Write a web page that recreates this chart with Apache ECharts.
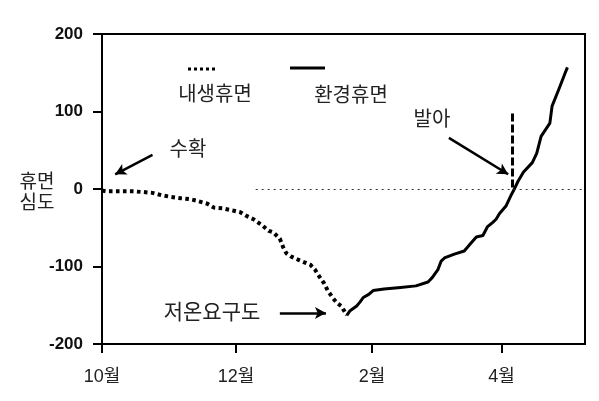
<!DOCTYPE html>
<html><head><meta charset="utf-8">
<script src="https://cdn.jsdelivr.net/npm/echarts@6/dist/echarts.min.js"></script>
<style>html,body{margin:0;padding:0;background:#fff}#c{width:599px;height:401px}</style>
</head><body><div id="c"></div><script>
// x = days since Oct 1
const tickDays = [0, 61, 123, 182];
const tickLabels = ['10월', '12월', '2월', '4월'];
const yTicks = [-200, -100, 0, 100, 200];

// 내생휴면 (endodormancy) – dotted
const endoDays = [0, 2, 8, 14, 19, 23, 27, 31, 36, 40, 43, 48, 51, 55, 60, 63, 66, 69, 73, 76, 78, 81, 82.5, 84, 86, 90, 95, 97, 99, 101, 103, 105, 107, 109, 111.5];
const endoVals = [-2, -3, -3, -3, -4, -5, -8, -10, -12, -13, -15, -19, -24, -25, -28, -30, -35, -39, -47, -54, -56, -64, -75, -83, -87, -92, -98, -104, -113, -121, -132, -140, -147, -151, -163];

// 환경휴면 (ecodormancy) – solid
const ecoDays = [111.5, 113, 116, 117.5, 119, 121.5, 123.5, 128.5, 136, 143, 148.5, 150.5, 153, 154.5, 156, 160.5, 165, 168, 170.5, 173.5, 175.5, 178, 179.5, 181, 184, 186.5, 188, 189.5, 192, 196, 198, 200, 204, 205, 208, 211, 212];
const ecoVals = [-163, -157, -151, -146, -140, -136, -131, -129, -127, -125, -120, -114, -104, -93, -89, -84, -80, -70, -62, -60, -49, -43, -39, -32, -22, -7, 1, 10, 22, 34, 46, 68, 85, 107, 128, 150, 157];

// annotations (data coordinates)
const harvestArrow = [[23, 44], [6, 19]];
const budArrow = [[158, 66], [185, 19]];
const chillArrow = [[81, -160], [102, -160]];
const budLine = [[187, 2], [187, 98]];
const zeroLine = [[70, 0], [220, 0]];

const zip = (a, b) => a.map((v, i) => [v, b[i]]);
const chart = echarts.init(document.getElementById('c'), null, {renderer: 'canvas'});
const KR = '"Noto Sans CJK KR", "Noto Sans", sans-serif';
const txt = (x, y, s, size) => ({
  type: 'text', x: x, y: y,
  style: {text: s, font: 'normal ' + size + 'px ' + KR, fill: '#222', align: 'center', verticalAlign: 'middle', lineHeight: 21}
});
const arrow = (p, extra) => [
  Object.assign({coord: p[0], symbol: 'none'}, extra || {}),
  {coord: p[1], symbol: 'arrow', symbolSize: [9, 11]}
];

chart.setOption({
  animation: false,
  backgroundColor: '#fff',
  grid: {left: 102, right: 14, top: 34, bottom: 57, show: true, borderColor: '#000', borderWidth: 2, backgroundColor: 'transparent'},
  xAxis: {
    type: 'value', min: 0, max: 220,
    axisLine: {show: true, onZero: false, lineStyle: {color: '#000', width: 2}},
    axisTick: {show: true, inside: false, length: 9, customValues: tickDays, lineStyle: {color: '#000', width: 2}},
    axisLabel: {
      customValues: tickDays, margin: 24, color: '#222', fontSize: 18,
      fontFamily: '"Liberation Sans", "Noto Sans CJK KR", sans-serif',
      formatter: v => tickLabels[tickDays.indexOf(v)] || ''
    },
    splitLine: {show: false}
  },
  yAxis: {
    type: 'value', min: -200, max: 200, interval: 100,
    axisLine: {show: true, onZero: false, lineStyle: {color: '#000', width: 2}},
    axisTick: {show: true, inside: false, length: 9, lineStyle: {color: '#000', width: 2}},
    axisLabel: {margin: 19, color: '#111', fontSize: 17, fontWeight: 'bold', fontFamily: '"Liberation Sans", Arial, sans-serif'},
    splitLine: {show: false}
  },
  series: [
    {
      name: '내생휴면', type: 'line', data: zip(endoDays, endoVals), showSymbol: false, smooth: false,
      lineStyle: {color: '#000', width: 4, type: [3.6, 3.4], cap: 'butt'}, z: 3
    },
    {
      name: '환경휴면', type: 'line', data: zip(ecoDays, ecoVals), showSymbol: false, smooth: false,
      lineStyle: {color: '#000', width: 3, type: 'solid', join: 'round'}, z: 3,
      markLine: {
        silent: true, animation: false, label: {show: false}, emphasis: {disabled: true},
        symbol: ['none', 'none'],
        data: [
          [{coord: zeroLine[0], lineStyle: {color: '#333', width: 1, type: [2, 4]}}, {coord: zeroLine[1]}],
          [{coord: budLine[0], lineStyle: {color: '#000', width: 3, type: [8, 3]}}, {coord: budLine[1]}],
          arrow(harvestArrow, {lineStyle: {color: '#000', width: 2.5, type: 'solid'}}),
          arrow(budArrow, {lineStyle: {color: '#000', width: 2.5, type: 'solid'}}),
          arrow(chillArrow, {lineStyle: {color: '#000', width: 2.5, type: 'solid'}})
        ]
      }
    }
  ],
  graphic: [
    {type: 'line', shape: {x1: 188, y1: 69, x2: 216, y2: 69}, style: {stroke: '#000', lineWidth: 3, lineDash: [3, 3]}},
    {type: 'line', shape: {x1: 290, y1: 68, x2: 325, y2: 68}, style: {stroke: '#000', lineWidth: 3}},
    txt(215, 93, '내생휴면', 20),
    txt(351, 94, '환경휴면', 20),
    txt(188, 148, '수확', 20),
    txt(432, 118, '발아', 20),
    txt(212, 311, '저온요구도', 21),
    txt(37, 191, '휴면\n심도', 19)
  ]
});
</script></body></html>
